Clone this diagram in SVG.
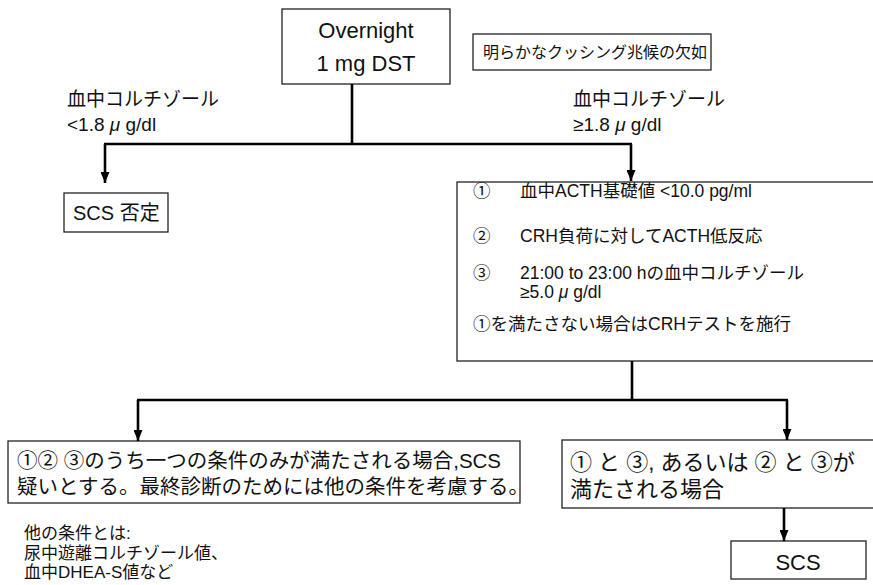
<svg xmlns="http://www.w3.org/2000/svg" width="873" height="585" viewBox="0 0 873 585">
<defs>
<marker id="ah" markerWidth="11" markerHeight="9" refX="11" refY="4.5" orient="auto" markerUnits="userSpaceOnUse" viewBox="0 0 11 9">
<path d="M0,0 L11,4.5 L0,9 Z" fill="#000"/>
</marker>
<style>
.box{fill:#fff;stroke:#222;stroke-width:1.3}
.t{font-family:"Liberation Sans","Noto Sans CJK JP",sans-serif;fill:#111}
.ln{stroke:#000;stroke-width:2.6;fill:none}
</style>
</defs>
<rect width="873" height="585" fill="#fff"/>
<g id="dst">
<rect class="box" x="282" y="9" width="168" height="75"/>
<text class="t" x="366" y="38" font-size="22" text-anchor="middle">Overnight</text>
<text class="t" x="366" y="71" font-size="22" text-anchor="middle">1 mg DST</text>
</g>
<g id="note">
<rect class="box" x="473" y="34" width="238" height="36"/>
<text class="t" x="483" y="58" font-size="16">明らかなクッシング兆候の欠如</text>
</g>
<g id="lbl-low">
<text class="t" x="67" y="106" font-size="19">血中コルチゾール</text>
<text class="t" x="67" y="131" font-size="19">&lt;1.8 <tspan font-style="italic">μ</tspan> g/dl</text>
</g>
<g id="lbl-high">
<text class="t" x="573" y="106" font-size="19">血中コルチゾール</text>
<text class="t" x="573" y="131" font-size="19">≥1.8 <tspan font-style="italic">μ</tspan> g/dl</text>
</g>
<g id="neg">
<rect class="box" x="64" y="193" width="104" height="39"/>
<text class="t" x="73" y="220" font-size="20">SCS 否定</text>
</g>
<g id="criteria">
<rect class="box" x="457" y="182" width="430" height="179"/>
<g class="t" font-size="17.5">
<text x="473" y="197">①</text>
<text x="520" y="197">血中ACTH基礎値 &lt;10.0 pg/ml</text>
<text x="473" y="242">②</text>
<text x="520" y="242">CRH負荷に対してACTH低反応</text>
<text x="473" y="279">③</text>
<text x="520" y="279">21:00 to 23:00 hの血中コルチゾール</text>
<text x="520" y="298">≥5.0 <tspan font-style="italic">μ</tspan> g/dl</text>
<text x="473" y="330">①を満たさない場合はCRHテストを施行</text>
</g>
</g>
<g id="suspect">
<rect class="box" x="8" y="441" width="512" height="62"/>
<text class="t" x="17" y="468" font-size="20.5">①② ③のうち一つの条件のみが満たされる場合,SCS</text>
<text class="t" x="17" y="494" font-size="20.5">疑いとする。最終診断のためには他の条件を考慮する。</text>
</g>
<g id="other">
<text class="t" x="24" y="539" font-size="17">他の条件とは:</text>
<text class="t" x="24" y="559" font-size="17">尿中遊離コルチゾール値、</text>
<text class="t" x="24" y="578" font-size="17">血中DHEA-S値など</text>
</g>
<g id="met">
<rect class="box" x="562" y="440" width="325" height="68"/>
<text class="t" x="570" y="470" font-size="22">① と ③, あるいは ② と ③が</text>
<text class="t" x="570" y="497" font-size="22">満たされる場合</text>
</g>
<g id="scs">
<rect class="box" x="731" y="541" width="135" height="38"/>
<text class="t" x="798" y="570" font-size="22" text-anchor="middle">SCS</text>
</g>
<g id="connectors">
<line class="ln" x1="352" y1="84" x2="352" y2="144"/>
<line class="ln" x1="104" y1="144" x2="632" y2="144"/>
<line class="ln" x1="105" y1="144" x2="105" y2="183" marker-end="url(#ah)"/>
<line class="ln" x1="631" y1="144" x2="631" y2="181" marker-end="url(#ah)"/>
<line class="ln" x1="632" y1="361" x2="632" y2="400"/>
<line class="ln" x1="137" y1="400" x2="788" y2="400"/>
<line class="ln" x1="138" y1="400" x2="138" y2="441" marker-end="url(#ah)"/>
<line class="ln" x1="787" y1="400" x2="787" y2="440" marker-end="url(#ah)"/>
<line class="ln" x1="784" y1="508" x2="784" y2="541" marker-end="url(#ah)"/>
</g>
</svg>
